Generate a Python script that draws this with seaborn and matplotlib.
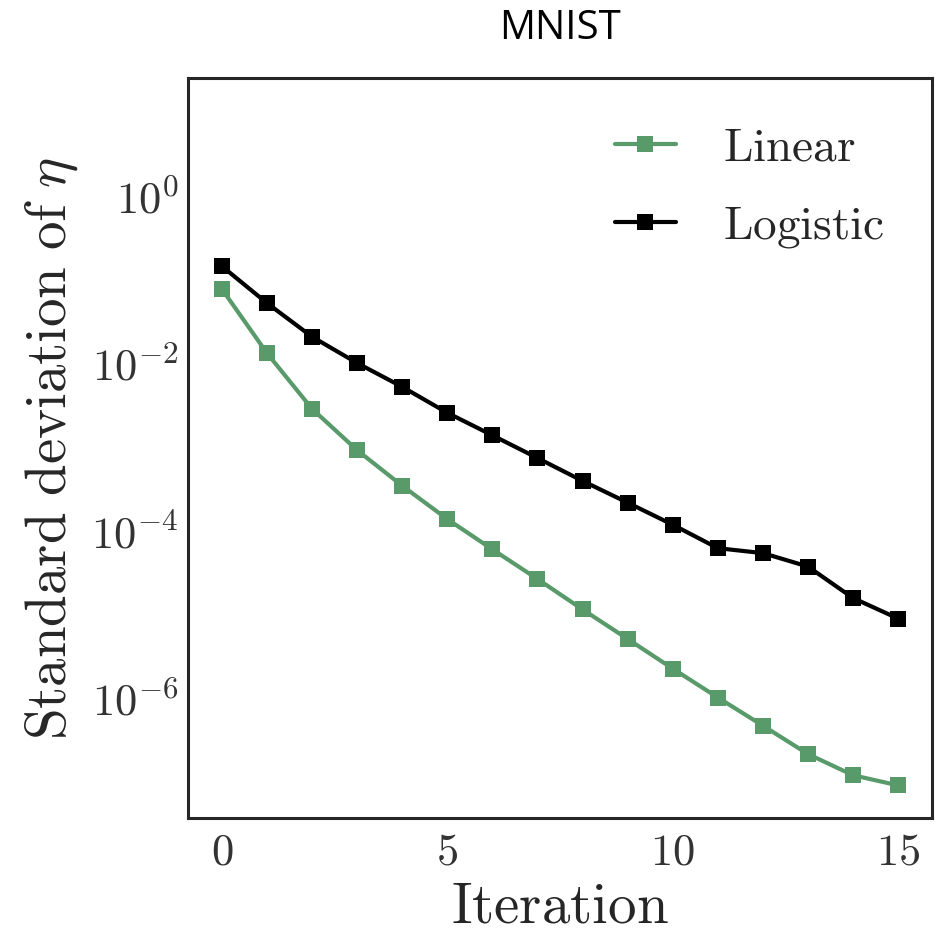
import numpy as np
import pandas as pd
import matplotlib
matplotlib.use("Agg")
import matplotlib.pyplot as plt
import seaborn as sns
from matplotlib.ticker import FuncFormatter, LogLocator

# Data
iterations = list(range(16))
linear_std = [0.078, 0.0134, 2.9e-3, 9.3e-4, 3.5e-4, 1.4e-4, 6.1e-5, 2.7e-5,
              1.17e-5, 5.2e-6, 2.3e-6, 1.04e-6, 4.8e-7, 2.2e-7, 1.23e-7, 9.3e-8]
logistic_std = [0.146, 0.053, 0.021, 0.0102, 5.3e-3, 2.6e-3, 1.4e-3, 7.5e-4,
                4.0e-4, 2.2e-4, 1.2e-4, 6.3e-5, 5.5e-5, 3.8e-5, 1.6e-5, 9.1e-6]
model_names = ["Linear", "Logistic"]
model_colors = ["#589a6a", "#000000"]

df = pd.DataFrame({
    "iteration": iterations * 2,
    "std": linear_std + logistic_std,
    "model": [model_names[0]] * 16 + [model_names[1]] * 16,
})

sns.set_style("white")
plt.rcParams["mathtext.fontset"] = "cm"
plt.rcParams["axes.edgecolor"] = ".15"

fig = plt.figure(figsize=(9.36, 9.31), dpi=100)
ax = fig.add_axes([0.2009, 0.1214, 0.7948, 0.7948])

for name, color in zip(model_names, model_colors):
    sns.lineplot(data=df[df["model"] == name], x="iteration", y="std",
                 color=color, marker="s", markersize=11.5, markeredgewidth=0,
                 linewidth=3, label=r"$\mathrm{%s}$" % name, ax=ax)

ax.set_yscale("log")
ax.set_ylim(3.8e-8, 25.7)
ax.set_xlim(-0.75, 15.75)
ax.yaxis.set_major_locator(LogLocator(base=100))
ax.yaxis.set_minor_locator(plt.NullLocator())
ax.yaxis.set_major_formatter(FuncFormatter(lambda v, p: r"$10^{%d}$" % round(np.log10(v))))
ax.set_xticks([0, 5, 10, 15])
ax.xaxis.set_major_formatter(FuncFormatter(lambda v, p: r"$%d$" % v))

ax.tick_params(axis="both", labelsize=32, length=0, colors=".2")
ax.tick_params(axis="y", pad=7)
ax.tick_params(axis="x", pad=9)

for s in ax.spines.values():
    s.set_linewidth(2.2)
    s.set_color(".15")

ax.set_xlabel(r"$\mathrm{Iteration}$", fontsize=41, color=".15", labelpad=4)
ax.set_ylabel(r"$\mathrm{Standard\ deviation\ of}\ \eta$", fontsize=41, color=".15", labelpad=8)
ax.set_title("MNIST", fontsize=29, family="Open Sans", color="black", pad=28)

leg = ax.legend(loc="upper right", frameon=False, fontsize=34, handlelength=1.3,
                handletextpad=1.0, borderaxespad=0.6, labelspacing=0.7)
for t in leg.get_texts():
    t.set_color(".15")

fig.savefig("out.png", dpi=100)
